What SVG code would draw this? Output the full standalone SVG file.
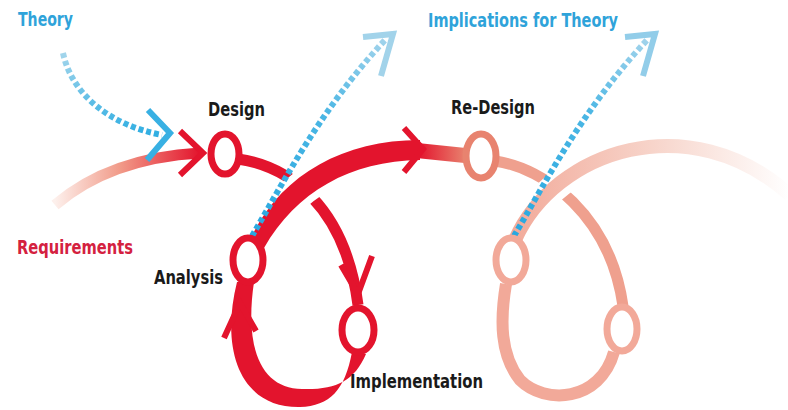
<svg xmlns="http://www.w3.org/2000/svg" width="788" height="410" viewBox="0 0 788 410">
<defs>
<style>
.lbl{font-family:"Liberation Sans Narrow","DejaVu Sans Condensed","Liberation Sans",sans-serif;font-weight:bold;font-size:20px;font-stretch:condensed}
.blk{fill:#1a1a1a}
.blue{fill:#2fa3da}
.redt{fill:#d4213f}
.ring{fill:#fff;stroke-width:7}
.head{fill:none;stroke-width:6;stroke-linejoin:miter;stroke-linecap:butt}
.dot{fill:none;stroke-width:6;stroke-dasharray:5 3}
</style>
<linearGradient id="gReq" gradientUnits="userSpaceOnUse" x1="55" y1="0" x2="200" y2="0">
<stop offset="0" stop-color="#fdf0ec"/>
<stop offset="0.45" stop-color="#f19a88"/>
<stop offset="1" stop-color="#e3142d"/>
</linearGradient>
<linearGradient id="gLink" gradientUnits="userSpaceOnUse" x1="418" y1="0" x2="466" y2="0">
<stop offset="0" stop-color="#e3142d"/>
<stop offset="1" stop-color="#e8836f"/>
</linearGradient>
<linearGradient id="gFade" gradientUnits="userSpaceOnUse" x1="515" y1="0" x2="790" y2="0">
<stop offset="0" stop-color="#f2ab9b"/>
<stop offset="0.5" stop-color="#f7d4ca"/>
<stop offset="1" stop-color="#ffffff"/>
</linearGradient>
<linearGradient id="gB1" gradientUnits="userSpaceOnUse" x1="0" y1="50" x2="0" y2="135">
<stop offset="0" stop-color="#a8d7ec"/>
<stop offset="1" stop-color="#30aee2"/>
</linearGradient>
<linearGradient id="gB2" gradientUnits="userSpaceOnUse" x1="0" y1="235" x2="0" y2="35">
<stop offset="0" stop-color="#28a8e0"/>
<stop offset="0.6" stop-color="#4ab6e4"/>
<stop offset="1" stop-color="#a6d5ec"/>
</linearGradient>
<path id="bigArc" d="M250 240 C278 178 340 140 420 140 L420 160 C350 161 296 192 264 248 Z"/>
<path id="fadeArc" d="M515 240 C555 150 690 105 790 195"/>
</defs>
<rect width="788" height="410" fill="#fff"/>

<g id="connectors">
<!-- Requirements -> Design -->
<path d="M55 205 Q110 158 200 153" fill="none" stroke="url(#gReq)" stroke-width="11"/>
<polyline class="head" points="180,131 203,153 180,175" stroke="#e3142d"/>
<!-- Design -> Implementation -->
<path d="M238 159 C288 166 345 205 358 305" fill="none" stroke="#e3142d" stroke-width="11"/>
<polyline class="head" points="341,265 358,294 372,256" stroke="#e3142d"/>
<!-- Implementation -> Analysis loop -->
<path d="M237 282 C220 350 240 408 300 407 C330 406 345 390 352 352 L366 354 C354 382 335 390 302 389 C262 389 244 350 254 282 Z" fill="#e3142d"/>
<polyline class="head" points="224,338 240,303 256,331" stroke="#e3142d"/>
<!-- Analysis -> Re-Design -->
<use href="#bigArc" fill="#fff" stroke="#fff" stroke-width="14"/>
<use href="#bigArc" fill="#e3142d"/>
<path d="M412 150 L470 156" fill="none" stroke="url(#gLink)" stroke-width="15"/>
<polyline class="head" points="404,128 423,149 404,172" stroke="#e3142d"/>
<!-- faded second cycle -->
<path d="M495 161 C545 168 610 215 623 306" fill="none" stroke="#efa08e" stroke-width="11"/>
<path d="M614 352 C600 402 545 405 520 380 C500 355 500 320 506 284" fill="none" stroke="#f2a999" stroke-width="12"/>
<use href="#fadeArc" fill="none" stroke="#fff" stroke-width="28"/>
<use href="#fadeArc" fill="none" stroke="url(#gFade)" stroke-width="14"/>
<!-- Theory -> Design -->
<path class="dot" d="M63 53 C72 95 110 125 162 135" stroke="url(#gB1)"/>
<polyline class="head" points="148,110 170,133 147,160" stroke="#38b0e3"/>
<!-- Analysis -> Implications for Theory -->
<path class="dot" d="M252 236 C285 180 320 110 385 40" stroke="url(#gB2)"/>
<polyline class="head" points="363,37 393,34 381,76" stroke="#a2d3ea"/>
<path class="dot" d="M514 236 C547 180 582 110 647 40" stroke="url(#gB2)"/>
<polyline class="head" points="625,37 655,34 643,76" stroke="#92cde9"/>
</g>

<g id="theory"><text class="lbl blue" x="18" y="26" textLength="55" lengthAdjust="spacingAndGlyphs">Theory</text></g>
<g id="implications"><text class="lbl blue" x="428" y="27" textLength="190" lengthAdjust="spacingAndGlyphs">Implications for Theory</text></g>
<g id="requirements"><text class="lbl redt" x="17" y="254" textLength="116" lengthAdjust="spacingAndGlyphs">Requirements</text></g>
<g id="design">
<ellipse class="ring" cx="225" cy="154" rx="14" ry="20" stroke="#e3142d"/>
<text class="lbl blk" x="208" y="116" textLength="57" lengthAdjust="spacingAndGlyphs">Design</text>
</g>
<g id="analysis">
<ellipse class="ring" cx="248" cy="260" rx="15" ry="22" stroke="#e3142d"/>
<text class="lbl blk" x="154" y="284" textLength="69" lengthAdjust="spacingAndGlyphs">Analysis</text>
</g>
<g id="implementation">
<ellipse class="ring" cx="358" cy="330" rx="16" ry="22" stroke="#e3142d"/>
<text class="lbl blk" x="350" y="388" textLength="133" lengthAdjust="spacingAndGlyphs">Implementation</text>
</g>
<g id="redesign">
<ellipse class="ring" cx="481" cy="156" rx="15" ry="22" stroke="#e8836f"/>
<text class="lbl blk" x="451" y="114" textLength="84" lengthAdjust="spacingAndGlyphs">Re-Design</text>
</g>
<g id="analysis2">
<ellipse class="ring" cx="511" cy="260" rx="15" ry="22" stroke="#f2a999"/>
</g>
<g id="implementation2">
<ellipse class="ring" cx="622" cy="329" rx="15" ry="22" stroke="#f2a999"/>
</g>
</svg>
